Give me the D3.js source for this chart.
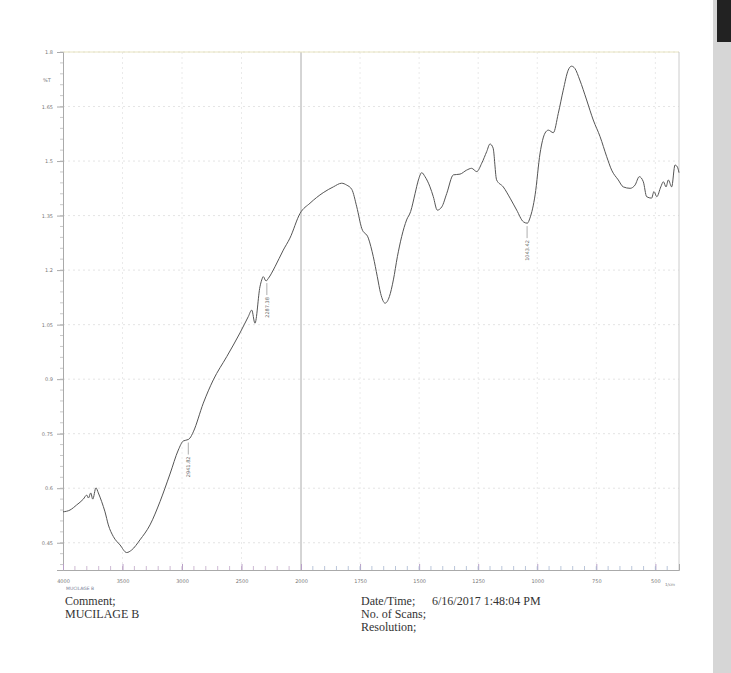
<!DOCTYPE html>
<html>
<head>
<meta charset="utf-8">
<script src="https://cdn.jsdelivr.net/npm/d3@7"></script>
<style>
    body { margin: 0; background: #ffffff; }
    .tick-label { font-family: "DejaVu Sans", sans-serif; font-size: 5px; fill: #777; }
    .foot { font-family: "Liberation Serif", serif; font-size: 12px; fill: #333; }
</style>
</head>
<body>
<div id="chart"></div>
<script>
// spectrum
const wavenumber = [4000, 3941, 3885, 3829, 3801, 3786, 3767, 3750, 3723, 3703, 3675, 3647, 3619, 3577, 3521,
    3465, 3423, 3353, 3269, 3185, 3101, 3031, 2989, 2947, 2933, 2905, 2821, 2737, 2624, 2513, 2443, 2414,
    2387, 2345, 2330, 2317, 2294, 2275, 2219, 2149, 2093, 2008, 1962, 1906, 1863, 1828, 1807, 1785, 1764,
    1743, 1715, 1694, 1677, 1663, 1644, 1626, 1609, 1592, 1574, 1553, 1536, 1517, 1503, 1489, 1475, 1454,
    1440, 1423, 1404, 1383, 1355, 1327, 1299, 1278, 1256, 1235, 1214, 1200, 1187, 1172, 1144, 1115, 1087,
    1059, 1042, 1031, 1009, 988, 967, 953, 932, 911, 890, 869, 855, 841, 820, 791, 763, 734, 706, 685, 657,
    636, 607, 586, 568, 551, 537, 516, 506, 494, 477, 466, 455, 445, 431, 417, 407, 400];
const transmittance = [0.535, 0.540, 0.554, 0.570, 0.581, 0.573, 0.587, 0.570, 0.601, 0.587, 0.563, 0.535,
    0.499, 0.467, 0.444, 0.423, 0.430, 0.458, 0.499, 0.563, 0.639, 0.705, 0.730, 0.734, 0.738, 0.755, 0.834,
    0.898, 0.962, 1.027, 1.072, 1.090, 1.054, 1.154, 1.173, 1.182, 1.170, 1.177, 1.209, 1.255, 1.288, 1.356,
    1.384, 1.413, 1.429, 1.439, 1.434, 1.422, 1.374, 1.315, 1.288, 1.237, 1.182, 1.136, 1.109, 1.127, 1.173,
    1.237, 1.292, 1.338, 1.361, 1.411, 1.448, 1.468, 1.457, 1.429, 1.402, 1.365, 1.374, 1.411, 1.462, 1.464,
    1.475, 1.480, 1.471, 1.494, 1.526, 1.547, 1.536, 1.448, 1.429, 1.398, 1.365, 1.333, 1.329, 1.343, 1.407,
    1.522, 1.577, 1.585, 1.578, 1.631, 1.695, 1.750, 1.761, 1.755, 1.723, 1.668, 1.613, 1.567, 1.512, 1.475,
    1.448, 1.429, 1.425, 1.434, 1.457, 1.443, 1.402, 1.398, 1.416, 1.402, 1.429, 1.443, 1.429, 1.448, 1.429,
    1.489, 1.484, 1.468];

const peakPos = [2947, 2287, 1043];
const peakText = ["2941.82", "2287.38", "1043.42"];

const yTicks = [0.45, 0.6, 0.75, 0.9, 1.05, 1.2, 1.35, 1.5, 1.65, 1.8];
const yTickText = ["0.45", "0.6", "0.75", "0.9", "1.05", "1.2", "1.35", "1.5", "1.65", "1.8"];
const xTicks = [4000, 3500, 3000, 2500, 2000, 1750, 1500, 1250, 1000, 750, 500];

let width = 731, height = 673;
let svg = d3.select("#chart").append("svg")
    .attr("width", width)
    .attr("height", height);

// scanned page: grey strip at the right edge
svg.append("rect").attr("x", 713).attr("y", 0).attr("width", 18).attr("height", height).attr("fill", "#d6d6d6");
svg.append("rect").attr("x", 717).attr("y", 0).attr("width", 14).attr("height", 42).attr("fill", "#222");

let plotLeft = 63, plotRight = 679, plotTop = 52, plotBottom = 570;

// 4000-2000 is drawn at half the scale of 2000-400
let x = d3.scaleLinear()
    .domain([4000, 2000, 400])
    .range([plotLeft, 301, plotRight]);

let y = d3.scaleLinear()
    .domain([0.375, 1.8])
    .range([plotBottom, plotTop]);

// grid
svg.selectAll(".hgrid").data(yTicks).enter().append("line")
    .attr("x1", plotLeft).attr("x2", plotRight)
    .attr("y1", d => y(d)).attr("y2", d => y(d))
    .attr("stroke", "#ddd").attr("stroke-width", 0.8)
    .attr("stroke-dasharray", "2,3");

svg.selectAll(".vgrid").data(xTicks.filter(d => d != 4000 && d != 2000)).enter().append("line")
    .attr("x1", d => x(d)).attr("x2", d => x(d))
    .attr("y1", plotTop).attr("y2", plotBottom)
    .attr("stroke", "#e4e4e4").attr("stroke-width", 0.8)
    .attr("stroke-dasharray", "2,3");

// solid line where the scale changes
svg.append("line")
    .attr("x1", x(2000)).attr("x2", x(2000))
    .attr("y1", plotTop).attr("y2", plotBottom)
    .attr("stroke", "#aaa").attr("stroke-width", 1);

// frame
svg.append("line").attr("x1", plotLeft).attr("x2", plotRight).attr("y1", plotTop).attr("y2", plotTop)
    .attr("stroke", "#e8e4c0").attr("stroke-width", 1);
svg.append("line").attr("x1", plotRight).attr("x2", plotRight).attr("y1", plotTop).attr("y2", plotBottom)
    .attr("stroke", "#ccc").attr("stroke-width", 1);

// y axis
let yAxis = d3.axisLeft(y)
    .tickValues(yTicks)
    .tickSize(6)
    .tickFormat((d, i) => yTickText[i]);
let gy = svg.append("g").attr("transform", "translate(" + plotLeft + ",0)").call(yAxis);
gy.select(".domain").attr("stroke", "#aaa");
gy.selectAll(".tick line").attr("stroke", "#aaa");
gy.selectAll(".tick text").attr("class", "tick-label").attr("x", -10);

let yMinor = d3.range(0.39, 1.8, 0.03);
svg.selectAll(".yminor").data(yMinor).enter().append("line")
    .attr("x1", plotLeft - 3).attr("x2", plotLeft)
    .attr("y1", d => y(d)).attr("y2", d => y(d))
    .attr("stroke", "#bbb").attr("stroke-width", 0.8);

svg.append("text").attr("class", "tick-label")
    .attr("x", 47).attr("y", 82).attr("text-anchor", "middle")
    .text("%T");

// x axis, ticks pointing up into the plot
let xAxis = d3.axisBottom(x)
    .tickValues(xTicks)
    .tickSize(-6)
    .tickPadding(9)
    .tickFormat(d3.format("d"));
let gx = svg.append("g").attr("transform", "translate(0," + plotBottom + ")").call(xAxis);
gx.select(".domain").attr("stroke", "#aaa");
gx.selectAll(".tick line").attr("stroke", "#b9a0c8");
gx.selectAll(".tick text").attr("class", "tick-label");

let xMinor = d3.range(3900, 2000, -100).concat(d3.range(1950, 400, -50));
svg.selectAll(".xminor").data(xMinor).enter().append("line")
    .attr("x1", d => x(d)).attr("x2", d => x(d))
    .attr("y1", plotBottom - 4).attr("y2", plotBottom)
    .attr("stroke", d => d > 2000 ? "#c0a8c8" : "#a8b8d0").attr("stroke-width", 0.8);

svg.append("text").attr("class", "tick-label")
    .attr("x", 670).attr("y", 586).attr("text-anchor", "middle")
    .style("font-size", "4px")
    .text("1/cm");
svg.append("text").attr("class", "tick-label")
    .attr("x", 66).attr("y", 590)
    .style("font-size", "4.5px").style("fill", "#7a7f99")
    .text("MUCILAGE B");

// spectrum
let points = wavenumber.map((d, i) => [d, transmittance[i]]);
svg.append("path")
    .datum(points)
    .attr("fill", "none")
    .attr("stroke", "#555")
    .attr("stroke-width", 1)
    .attr("stroke-linejoin", "round")
    .attr("d", d3.line()
        .x(d => x(d[0]))
        .y(d => y(d[1]))
        .curve(d3.curveMonotoneX));

// peak markers
let interp = function (wn) {
    let i = wavenumber.findIndex(w => w <= wn);
    if (i <= 0) return transmittance[0];
    let t = (wavenumber[i - 1] - wn) / (wavenumber[i - 1] - wavenumber[i]);
    return transmittance[i - 1] + t * (transmittance[i] - transmittance[i - 1]);
};
peakPos.forEach(function (p, i) {
    let px = x(p), py = y(interp(p)) + 3;
    svg.append("line")
        .attr("x1", px).attr("x2", px)
        .attr("y1", py).attr("y2", py + 12)
        .attr("stroke", "#999").attr("stroke-width", 0.8);
    svg.append("text").attr("class", "tick-label")
        .attr("transform", "translate(" + (px + 2) + "," + (py + 14) + ") rotate(-90)")
        .attr("text-anchor", "end")
        .style("font-size", "5px").style("fill", "#666")
        .text(peakText[i]);
});

// footer
svg.append("text").attr("class", "foot").attr("x", 65).attr("y", 605).text("Comment;");
svg.append("text").attr("class", "foot").attr("x", 65).attr("y", 618).text("MUCILAGE B");
svg.append("text").attr("class", "foot").attr("x", 361).attr("y", 605).text("Date/Time;");
svg.append("text").attr("class", "foot").attr("x", 432).attr("y", 605).text("6/16/2017 1:48:04 PM");
svg.append("text").attr("class", "foot").attr("x", 361).attr("y", 618).text("No. of Scans;");
svg.append("text").attr("class", "foot").attr("x", 361).attr("y", 631).text("Resolution;");
</script>
</body>
</html>
